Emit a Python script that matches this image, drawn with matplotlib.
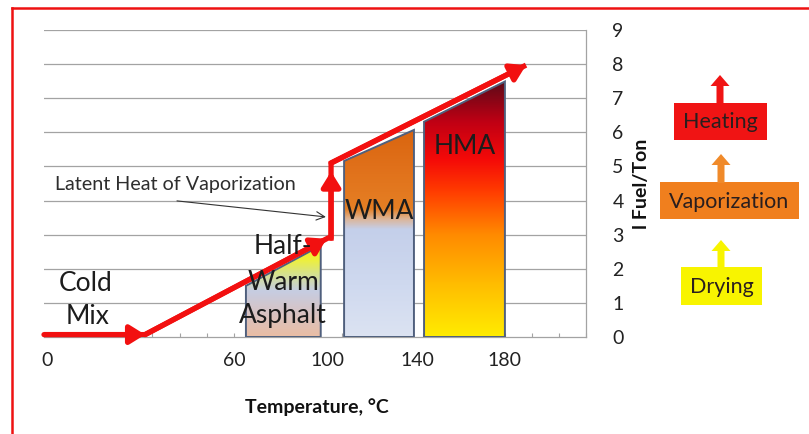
import numpy as np
import matplotlib
matplotlib.use("Agg")
import matplotlib.pyplot as plt
from matplotlib.patches import Polygon, FancyArrow, Rectangle
from matplotlib.colors import LinearSegmentedColormap
from matplotlib.lines import Line2D

plt.rcParams['font.family'] = ['Lato', 'DejaVu Sans']

# ---------------- data ----------------
x_tick_pos = [-23.5, 60, 101.5, 141.5, 180]
x_tick_labels = ['0', '60', '100', '140', '180']
y_ticks = [0, 1, 2, 3, 4, 5, 6, 7, 8, 9]

# mix categories: (left T, right T), (top left, top right)
hwa_x = [65.1, 98.4]
hwa_top = [1.50, 2.68]
wma_x = [108.8, 139.9]
wma_top = [5.16, 6.07]
hma_x = [144.4, 180.4]
hma_top = [6.31, 7.49]

# energy path (temperature, fuel)
path_x = [-24.8, 20.2, 101.6, 103.0, 103.0, 189.8]
path_y = [0.07, 0.07, 2.90, 2.90, 5.10, 7.97]
# arrow heads: (start, tip)
arrow_segments = [
    ((-24.8, 0.07), (20.2, 0.07)),
    ((20.2, 0.07), (101.0, 2.88)),
    ((103.0, 2.90), (103.0, 4.85)),
    ((103.0, 5.10), (189.8, 7.97)),
]

XLIM = (-24.8, 216.5)
YLIM = (0, 9)

# ---------------- figure ----------------
W, H = 809, 434
fig = plt.figure(figsize=(W / 100, H / 100), dpi=100)
fig.patch.set_facecolor('white')

ax = fig.add_axes([44 / W, 1 - 337 / H, (586 - 44) / W, (337 - 30) / H])
ax.set_xlim(*XLIM)
ax.set_ylim(*YLIM)
ax.set_facecolor('white')

grid_c = '#a3a3a3'
for yv in y_ticks[1:]:
    ax.axhline(yv, color=grid_c, lw=0.9, zorder=1)
for s in ['left', 'top']:
    ax.spines[s].set_visible(False)
for s in ['bottom', 'right']:
    ax.spines[s].set_color(grid_c)
    ax.spines[s].set_linewidth(0.9)

ax.yaxis.tick_right()
ax.set_yticks(y_ticks)
ax.set_yticklabels([str(v) for v in y_ticks])
ax.tick_params(axis='y', length=0, pad=19, labelsize=14, labelcolor='#222222')
ax.set_xticks(x_tick_pos)
ax.set_xticklabels(x_tick_labels)
ax.tick_params(axis='x', which='major', length=0, pad=11, labelsize=14, labelcolor='#222222')
ax.set_xticks(np.linspace(XLIM[0], XLIM[1], 21), minor=True)
ax.tick_params(axis='x', which='minor', direction='in', length=3, color=grid_c, width=0.8)

ax.set_xlabel('Temperature, °C', fontsize=14, fontweight='bold', color='#111111')
ax.xaxis.set_label_coords(0.504, -0.228)
ax.set_ylabel('l Fuel/Ton', fontsize=14, fontweight='bold', color='#111111', rotation=90)
ax.yaxis.set_label_position('right')
ax.yaxis.set_label_coords(1.103, 0.5)
ax.yaxis.label.set_verticalalignment('center')
ax.xaxis.label.set_verticalalignment('center')


def grad_shape(xr, tops, stops, edge):
    xs = [xr[0], xr[0], xr[1], xr[1]]
    ys = [0, tops[0], tops[1], 0]
    poly = Polygon(np.column_stack([xs, ys]), closed=True, fc='none', ec=edge, lw=1.4, zorder=3,
                   joinstyle='miter')
    ax.add_patch(poly)
    ymax = max(tops)
    cmap = LinearSegmentedColormap.from_list('g', [(p / ymax, c) for p, c in stops])
    grad = np.linspace(0, 1, 256).reshape(-1, 1)
    im = ax.imshow(grad, extent=[xr[0], xr[1], 0, ymax], origin='lower', cmap=cmap,
                   aspect='auto', zorder=2.5, interpolation='bilinear')
    im.set_clip_path(poly)


edge_c = '#4f5f7d'
grad_shape(hwa_x, hwa_top,
           [(0.0, '#eabda3'), (0.7, '#d8c3c3'), (1.35, '#c6cde2'), (1.85, '#d6e38c'),
            (2.25, '#eef03c'), (2.68, '#f7ef1c')], edge_c)
grad_shape(wma_x, wma_top,
           [(0.0, '#dce3f2'), (1.5, '#cfd9ef'), (3.15, '#c4cfea'), (3.45, '#dcb497'),
            (3.75, '#e57f24'), (5.0, '#e0701a'), (6.07, '#d9650f')], edge_c)
grad_shape(hma_x, hma_top,
           [(0.0, '#ffec00'), (1.5, '#ffbe00'), (3.0, '#ff8a00'), (4.3, '#ff3a00'),
            (5.2, '#f50a08'), (6.3, '#c00014'), (7.49, '#5c0a18')], edge_c)

ax.set_xlim(*XLIM)
ax.set_ylim(*YLIM)

# red energy path
red = '#f21010'
ax.plot(path_x, path_y, color=red, lw=3.8, zorder=5, solid_joinstyle='miter',
        solid_capstyle='butt')
for (sx, sy), (tx, ty) in arrow_segments:
    ax.annotate('', xy=(tx, ty), xytext=(sx, sy),
                arrowprops=dict(arrowstyle='-|>,head_length=0.45,head_width=0.28',
                                mutation_scale=20, lw=3.8, color=red,
                                shrinkA=0, shrinkB=0), zorder=5)

# annotation
ax.annotate('', xy=(100.7, 3.52), xytext=(34.4, 3.99),
            arrowprops=dict(arrowstyle='->,head_length=0.5,head_width=0.25', mutation_scale=12,
                            lw=0.8, color='#333333', shrinkA=0, shrinkB=0), zorder=4)
ax.text(33.7, 4.46, 'Latent Heat of Vaporization', ha='center', va='center',
        fontsize=14.2, color='#2e2e2e', zorder=6)

big = 19
tc = '#1c1c1c'
ax.text(-6.1, 1.58, 'Cold', ha='center', va='center', fontsize=big, color=tc, zorder=6)
ax.text(-5.6, 0.59, 'Mix', ha='center', va='center', fontsize=big, color=tc, zorder=6)
ax.text(81.6, 2.64, 'Half-', ha='center', va='center', fontsize=big, color=tc, zorder=6)
ax.text(82.0, 1.61, 'Warm', ha='center', va='center', fontsize=big, color=tc, zorder=6)
ax.text(81.6, 0.64, 'Asphalt', ha='center', va='center', fontsize=big, color=tc, zorder=6)
ax.text(124.3, 3.69, 'WMA', ha='center', va='center', fontsize=big, color=tc, zorder=6)
ax.text(162.4, 5.58, 'HMA', ha='center', va='center', fontsize=big, color=tc, zorder=6)

# ---------------- overlay (pixel coords) ----------------
ov = fig.add_axes([0, 0, 1, 1], facecolor='none')
ov.set_xlim(0, W)
ov.set_ylim(H, 0)
ov.axis('off')

# red frame
ov.add_line(Line2D([12, W + 5], [8, 8], color='#ee1111', lw=1.8))
ov.add_line(Line2D([12, 12], [8, H + 5], color='#ee1111', lw=1.8))

# process legend boxes
legend_items = [
    ('Heating', '#f01414', '#f01414', (674, 103, 767, 140), 720),
    ('Vaporization', '#f07f1e', '#f08a2a', (660, 182, 799, 219), 721),
    ('Drying', '#f8f400', '#f8f400', (681, 267, 762, 305), 721),
]
arrow_tips = [75, 154, 240]
for (label, fc, ac, (x0, y0, x1, y1), ax_c), tip in zip(legend_items, arrow_tips):
    ov.add_patch(Rectangle((x0, y0), x1 - x0, y1 - y0, fc=fc, ec='none'))
    ov.add_patch(FancyArrow(ax_c, y0 + 1, 0, tip - y0 - 1, width=7, head_width=19,
                            head_length=11, length_includes_head=True, fc=ac, ec='none'))
    ov.text((x0 + x1) / 2, (y0 + y1) / 2 + 1, label, ha='center', va='center',
            fontsize=15.5, color='#2a1e1e')

fig.savefig('out.png', dpi=100)
